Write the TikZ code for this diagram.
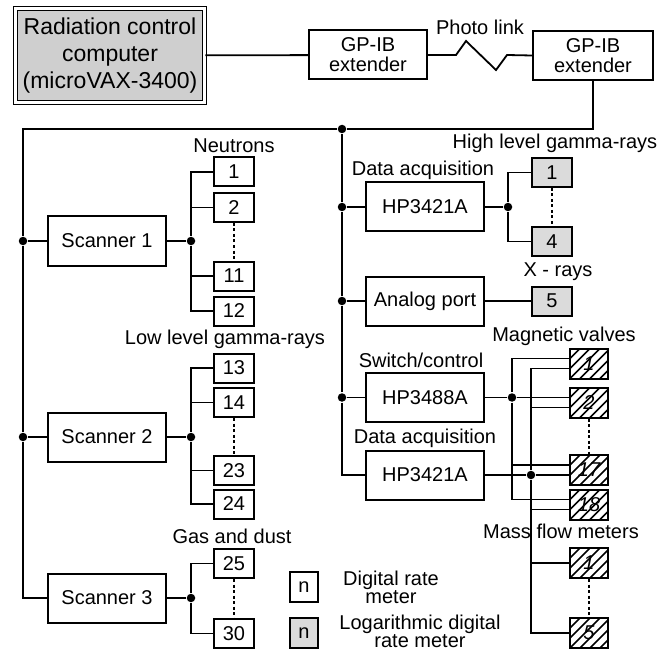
\documentclass[tikz,border=0pt]{standalone}
\usepackage{fontspec}
\setmainfont{Liberation Sans}
\usetikzlibrary{positioning}
\newcommand\diagfont{\fontsize{20}{20}\selectfont}
\newcommand\compfont{\fontsize{23}{27}\selectfont}
\newcommand\keyfont{\fontsize{20}{16}\selectfont}

\begin{document}
\begin{tikzpicture}[
    x=1pt, y=-1pt,
    line width=1.8pt,
    unit/.style={rectangle, draw, line width=2pt, minimum width=118pt,
                 minimum height=49pt, inner sep=0pt, align=center, font=\diagfont},
    meter/.style={rectangle, draw, line width=2pt, minimum width=40pt,
                  minimum height=29pt, inner sep=0pt, font=\diagfont},
    logmeter/.style={meter, fill=gray!28},
    valve/.style={meter, minimum width=38pt, minimum height=30pt, font=\diagfont\itshape,
                  path picture={\foreach \k in {-40,-30,...,40}
                    {\draw[line width=1.6pt] ([xshift=\k pt]path picture bounding box.south west) -- ++(45:70pt);}}},
    dot/.style={circle, fill, inner sep=0pt, minimum size=8.5pt},
    caption/.style={font=\diagfont, inner sep=0pt},
    gap/.style={dash pattern=on 3pt off 2.5pt},
]
    \useasboundingbox (0,0) rectangle (670,650);

    % top row
    \node[unit, minimum width=189pt, minimum height=94pt, fill=gray!38, double=white,
          double distance=2.5pt, line width=1.6pt, font=\compfont] (comp) at (110,55.5)
        {Radiation control\\computer\\(microVAX-3400)};
    \node[unit] (ext1) at (368,55) {GP-IB\\extender};
    \node[unit, minimum width=120pt] (ext2) at (593,55.5) {GP-IB\\extender};
    \node[caption] (photo) at (480,27) {Photo link};

    \draw (comp) -- (ext1);
    \draw (ext1.east) -- ++(28,0) -- ++(10,-14) -- ++(30,29) -- ++(11,-15) -- (ext2.west);

    % junctions on the buses
    \node[dot] (dtop) at (342,129) {};
    \node[dot] (d1) at (23,241) {};
    \node[dot] (d2) at (23,437) {};
    \node[dot] (r1) at (342,207) {};
    \node[dot] (r2) at (342,301) {};
    \node[dot] (r3) at (342,397.5) {};

    % scanners
    \node[unit] (sc1) at (107,241) {Scanner 1};
    \node[unit] (sc2) at (107,437) {Scanner 2};
    \node[unit] (sc3) at (107,598) {Scanner 3};
    \node[dot] (f1) at (191,241) {};
    \node[dot] (f2) at (191,437) {};
    \node[dot] (f3) at (191,598) {};

    \node[meter] (n1)  at (234,172)   {1};
    \node[meter] (n2)  at (234,207.5) {2};
    \node[meter] (n11) at (234,276)   {11};
    \node[meter] (n12) at (234,311)   {12};
    \node[meter] (n13) at (234,368)   {13};
    \node[meter] (n14) at (234,402.5) {14};
    \node[meter] (n23) at (234,470.5) {23};
    \node[meter] (n24) at (234,504)   {24};
    \node[meter] (n25) at (234,563.5) {25};
    \node[meter] (n30) at (234,633.5) {30};

    \node[caption] at (234,146) {Neutrons};
    \node[caption] at (225,339) {Low level gamma-rays};
    \node[caption] at (232,536) {Gas and dust};

    % right column
    \node[unit] (hpa) at (425,207)   {HP3421A};
    \node[unit] (ap)  at (425,301)   {Analog port};
    \node[unit] (hps) at (425,397.5) {HP3488A};
    \node[unit] (hpb) at (425,475)   {HP3421A};
    \node[dot] (fh) at (508,207) {};

    \node[logmeter] (g1) at (552,172.5) {1};
    \node[logmeter] (g4) at (552,241.5) {4};
    \node[logmeter] (g5) at (552,301)   {5};

    \node[caption] at (555,143) {High level gamma-rays};
    \node[caption] at (423,170) {Data acquisition};
    \node[caption] at (558,272) {X - rays};
    \node[caption] at (564,336) {Magnetic valves};
    \node[caption] at (421,360) {Switch/control};
    \node[caption] at (425,438) {Data acquisition};
    \node[caption] at (561,531) {Mass flow meters};

    \node[valve] (v1)  at (589,363.5) {1};
    \node[valve] (v2)  at (589,402.5) {2};
    \node[valve] (v17) at (589,470)   {17};
    \node[valve] (v18) at (589,504.5) {18};
    \node[valve] (m1)  at (589,563)   {1};
    \node[valve] (m5)  at (589,633)   {5};
    \node[dot] (da) at (512,397.5) {};
    \node[dot] (db) at (531,475) {};

    % main buses
    \draw (ext2.south) |- (dtop);
    \draw (dtop) -| (d1) -- (d2) |- (sc3.west);
    \draw (dtop) -- (r1) -- (r2) -- (r3) |- (hpb.west);

    % scanner branches
    \draw (d1) -- (sc1);  \draw (sc1) -- (f1);
    \draw (d2) -- (sc2);  \draw (sc2) -- (f2);
    \draw (sc3) -- (f3);
    \draw (n1.west) -| (f1) |- (n12.west);
    \draw (n2.west -| f1) -- (n2.west);
    \draw (n11.west -| f1) -- (n11.west);
    \draw (n13.west) -| (f2) |- (n24.west);
    \draw (n14.west -| f2) -- (n14.west);
    \draw (n23.west -| f2) -- (n23.west);
    \draw (n25.west) -| (f3) |- (n30.west);

    % right branches
    \draw (r1) -- (hpa);  \draw (hpa) -- (fh);
    \draw (g1.west) -| (fh) |- (g4.west);
    \draw (r2) -- (ap);  \draw (ap) -- (g5);
    \draw (r3) -- (hps);
    \draw (hps) -- (da) -- ([yshift=5pt]v2.west);
    \draw (hpb) -- (db) -- ([yshift=-5pt]v17.west);

    % valve wiring
    \draw ([yshift=5pt]v1.west) -| (da) |- ([yshift=5pt]v18.west);
    \draw ([yshift=5pt]v17.west -| da) -- ([yshift=5pt]v17.west);
    \draw ([yshift=-5pt]v1.west) -| (db) |- (m5.west);
    \draw ([yshift=-5pt]v2.west -| db) -- ([yshift=-5pt]v2.west);
    \draw ([yshift=-5pt]v18.west -| db) -- ([yshift=-5pt]v18.west);
    \draw (m1.west -| db) -- (m1.west);

    % skipped meters
    \draw[gap] (n2) -- (n11);
    \draw[gap] (n14) -- (n23);
    \draw[gap] (n25) -- (n30);
    \draw[gap] (g1) -- (g4);
    \draw[gap] (v2) -- (v17);
    \draw[gap] (m1) -- (m5);

    % key
    \node[meter, minimum width=28pt, minimum height=30pt] (key1) at (304,587) {n};
    \node[logmeter, minimum width=28pt, minimum height=30pt] (key2) at (304,633) {n};
    \node[caption, align=center, font=\keyfont] at (391,587) {Digital rate\\meter};
    \node[caption, align=center, font=\keyfont] at (420,631) {Logarithmic digital\\rate meter};
\end{tikzpicture}
\end{document}
